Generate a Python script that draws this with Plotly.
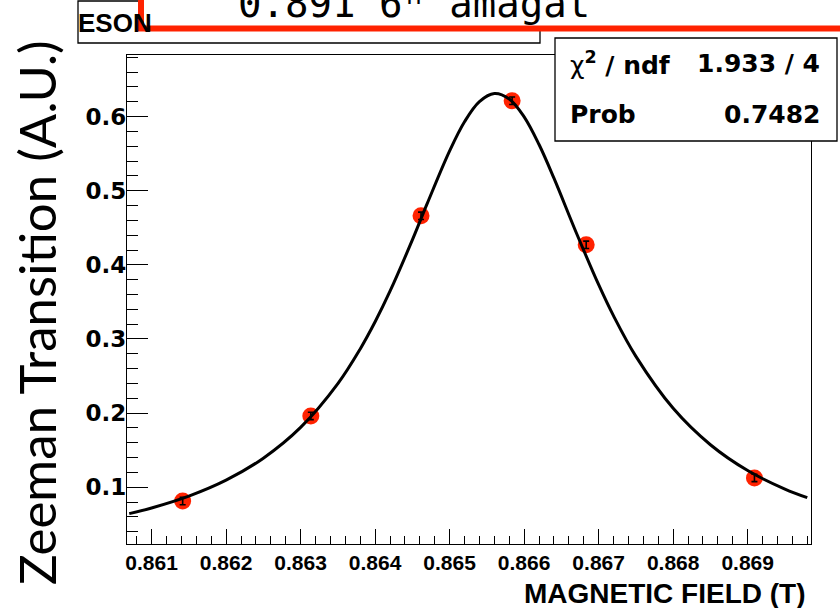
import plotly.graph_objects as go

# ---------------- data ----------------
field_T = [0.861417, 0.863137, 0.864616, 0.865839, 0.866833, 0.869091]
signal = [0.0815, 0.1962, 0.4661, 0.6213, 0.4270, 0.1126]
signal_err = [0.005, 0.005, 0.005, 0.005, 0.005, 0.005]

# fit curve, sampled along the drawn line
fit_x = [0.8607, 0.8610, 0.8615, 0.8620, 0.8625, 0.8630, 0.8635, 0.8638,
         0.8640, 0.8642, 0.8645, 0.8647, 0.8650, 0.8652, 0.8654, 0.8656,
         0.8658, 0.8660, 0.8662, 0.8664, 0.8667, 0.8670, 0.8672, 0.8675,
         0.8680, 0.8685, 0.8690, 0.8695, 0.8698]
fit_y = [0.0645, 0.0721, 0.0881, 0.1096, 0.1392, 0.1807, 0.2398, 0.2866,
         0.3232, 0.3644, 0.4336, 0.4828, 0.5537, 0.5930, 0.6201, 0.6310,
         0.6237, 0.5996, 0.5623, 0.5169, 0.4433, 0.3732, 0.3311, 0.2765,
         0.2065, 0.1574, 0.1226, 0.0976, 0.0860]

x_ticks = [0.861, 0.862, 0.863, 0.864, 0.865, 0.866, 0.867, 0.868, 0.869]
x_tick_labels = ["0.861", "0.862", "0.863", "0.864", "0.865", "0.866",
                 "0.867", "0.868", "0.869"]
y_ticks = [0.1, 0.2, 0.3, 0.4, 0.5, 0.6]
y_tick_labels = ["0.1", "0.2", "0.3", "0.4", "0.5", "0.6"]

x_title = "MAGNETIC FIELD (T)"
y_title = "Zeeman Transition (A.U.)"
stat_rows = [("<span style='font-weight:normal'>χ</span><sup>2</sup> / ndf", "1.933 / 4"),
             ("Prob", "0.7482")]
title_fragment = "ESON"
density_label = "0.891 6ⁿ amagat"

# ---------------- layout helpers ----------------
W, H = 840, 608
PX0, PW = 127, 684
PY0, PH = 55, 489


def xp(px):
    return (px - PX0) / PW


def yp(py):
    return (PY0 + PH - py) / PH


ROOT_FONT = "DejaVu Sans"
NARROW_FONT = "Liberation Sans"

fig = go.Figure()

fig.add_trace(go.Scatter(
    x=field_T, y=signal, mode="markers",
    marker=dict(size=17, color="#ff2200", line=dict(width=0)),
    hoverinfo="skip", showlegend=False,
))
fig.add_trace(go.Scatter(
    x=fit_x, y=fit_y, mode="lines", line=dict(color="black", width=3, shape="spline"),
    hoverinfo="skip", showlegend=False,
))
fig.add_trace(go.Scatter(
    x=field_T, y=signal, mode="markers",
    marker=dict(size=1, opacity=0),
    error_y=dict(type="data", array=signal_err, color="black", thickness=1.6, width=3),
    hoverinfo="skip", showlegend=False,
))

fig.update_xaxes(
    range=[0.86067, 0.86985], tickvals=x_ticks, ticktext=x_tick_labels,
    ticks="inside", ticklen=15, tickwidth=1.2, tickcolor="black",
    minor=dict(ticks="inside", dtick=0.0002, tick0=0.861, ticklen=7.5,
               tickwidth=1, tickcolor="black", showgrid=False),
    showline=True, mirror=True, linecolor="black", linewidth=1.3,
    showgrid=False, zeroline=False, ticklabelstandoff=0,
    tickfont=dict(family=NARROW_FONT, size=21, color="black", weight="bold"),
)
fig.update_yaxes(
    range=[0.0235, 0.683], tickvals=y_ticks, ticktext=y_tick_labels,
    ticks="inside", ticklen=21, tickwidth=1.2, tickcolor="black",
    minor=dict(ticks="inside", dtick=0.02, tick0=0, ticklen=11,
               tickwidth=1, tickcolor="black", showgrid=False),
    showline=True, mirror=True, linecolor="black", linewidth=1.3,
    showgrid=False, zeroline=False, ticklabelstandoff=-5,
    tickfont=dict(family=ROOT_FONT, size=23, color="black", weight="bold"),
)

shapes = [
    # partly hidden title box
    dict(type="rect", xref="paper", yref="paper",
         x0=xp(78), x1=xp(540), y0=yp(43), y1=yp(1),
         line=dict(color="black", width=1.3), fillcolor="white", layer="above"),
    # red box with density label
    dict(type="rect", xref="paper", yref="paper",
         x0=xp(141), x1=xp(880), y0=yp(28.5), y1=yp(-40),
         line=dict(color="#ff2200", width=6), fillcolor="white", layer="above"),
    # statistics box
    dict(type="rect", xref="paper", yref="paper",
         x0=xp(555), x1=xp(837), y0=yp(141), y1=yp(38),
         line=dict(color="black", width=1.3), fillcolor="white", layer="above"),
]

annotations = [
    dict(text=title_fragment, xref="paper", yref="paper", x=xp(76), y=yp(23),
         xanchor="left", yanchor="middle", showarrow=False,
         font=dict(family=NARROW_FONT, size=26, color="black", weight="bold")),
    dict(text=density_label, xref="paper", yref="paper", x=xp(236), y=yp(3),
         xanchor="left", yanchor="middle", showarrow=False,
         font=dict(family="DejaVu Sans Mono", size=39, color="black")),
    dict(text=x_title, xref="paper", yref="paper", x=xp(808), y=yp(593),
         xanchor="right", yanchor="middle", showarrow=False,
         font=dict(family=NARROW_FONT, size=28, color="black", weight="bold")),
    dict(text=y_title, xref="paper", yref="paper", x=xp(36), y=yp(313),
         xanchor="center", yanchor="middle", showarrow=False, textangle=-90,
         font=dict(family="Lato", size=51, color="black")),
]
row_y = [63, 115]
for (lab, val), ry in zip(stat_rows, row_y):
    annotations.append(dict(text=lab, xref="paper", yref="paper", x=xp(568), y=yp(ry),
                            xanchor="left", yanchor="middle", showarrow=False,
                            font=dict(family=ROOT_FONT, size=25, color="black", weight="bold")))
    annotations.append(dict(text=val, xref="paper", yref="paper", x=xp(822), y=yp(ry),
                            xanchor="right", yanchor="middle", showarrow=False,
                            font=dict(family=ROOT_FONT, size=25, color="black", weight="bold")))

fig.update_layout(
    width=W, height=H,
    margin=dict(l=PX0, r=W - PX0 - PW, t=PY0, b=H - PY0 - PH),
    paper_bgcolor="white", plot_bgcolor="white",
    showlegend=False, shapes=shapes, annotations=annotations,
)

fig.write_html(
    "out.html",
    config={"displayModeBar": False},
    post_script="document.body.style.margin='0';document.body.style.overflow='hidden';",
)
